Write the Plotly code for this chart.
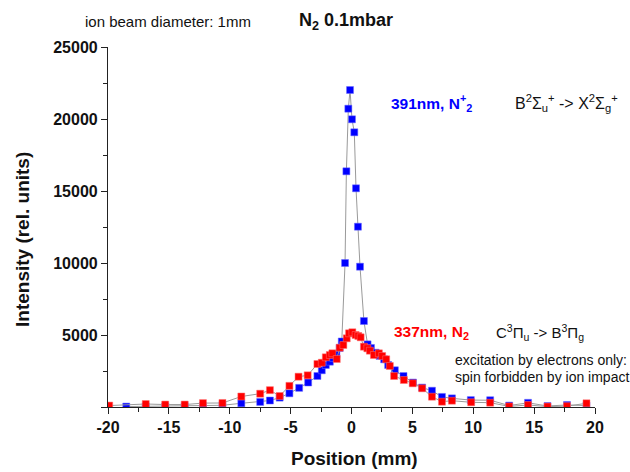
import plotly.graph_objects as go

# 391 nm emission (N2+ first negative band), position in mm vs intensity
pos_391 = [-18.5, -16.9, -15.3, -13.7, -12.2, -10.6, -9.05, -7.5, -6.7, -5.9, -5.1,
           -4.3, -3.56, -2.8, -2.44, -2.11, -1.78, -1.5, -1.24, -0.97, -0.8, -0.53,
           -0.42, -0.26, -0.12, 0.04, 0.23, 0.37, 0.53, 0.7, 1.02, 1.32, 1.6, 1.98,
           2.3, 2.68, 3.01, 3.56, 4.27, 5.05, 5.8, 6.61, 7.43, 8.25, 9.8, 11.39,
           12.95, 14.5, 16.1, 17.7, 19.3]
int_391 = [30, 40, 40, 50, 80, 120, 257, 350, 450, 650, 951,
           1330, 1700, 2153, 2550, 2917, 3146, 3400, 3660, 4100, 4550, 10000,
           16368, 20715, 22014, 19979, 19076, 15188, 12521, 9743, 5972, 4350, 4100, 3771,
           3550, 3310, 2917, 2550, 2150, 1700, 1350, 1130, 700, 600, 480, 470,
           100, 290, 70, 140, 100]

# 337 nm emission (N2 second positive band)
pos_337 = [-19.9, -16.9, -15.3, -13.7, -12.2, -10.6, -9.05, -7.5, -6.7, -5.9, -5.1,
           -4.35, -3.6, -2.8, -2.44, -2.11, -1.78, -1.57, -1.21, -0.97, -0.67, -0.39,
           -0.2, 0.07, 0.34, 0.56, 0.75, 1.02, 1.3, 1.51, 1.84, 2.25, 2.52, 2.85,
           3.15, 3.5, 4.3, 5.03, 5.8, 6.61, 7.43, 8.25, 9.83, 11.39, 12.95, 14.5,
           16.1, 17.7, 19.3]
int_337 = [100, 208, 170, 170, 270, 280, 730, 924, 1170, 764, 1470,
           2104, 2200, 2986, 3076, 3451, 3611, 3729, 3333, 4118, 4306, 4771,
           5118, 5188, 5000, 4931, 4840, 4188, 4076, 3910, 3611, 3729, 3542, 3313,
           2847, 2153, 1875, 1646, 1299, 715, 368, 438, 326, 299, 40, 139,
           30, 60, 257]

x_ticks = [-20, -15, -10, -5, 0, 5, 10, 15, 20]
x_ticktext = ["-20", "-15", "-10", "-5", "0", "5", "10", "15", "20"]
y_ticks = [0, 5000, 10000, 15000, 20000, 25000]
y_ticktext = ["", "5000", "10000", "15000", "20000", "25000"]

FONT = "Liberation Sans, Arial, sans-serif"
W, H = 630, 472
L, R, T, B = 108, 35, 47, 65


def px(xp, yp):
    """Convert page pixel position to paper coordinates."""
    pw = W - L - R
    ph = H - T - B
    return (xp - L) / pw, (H - B - yp) / ph


fig = go.Figure()

fig.add_trace(go.Scatter(
    x=pos_391, y=int_391, mode="lines+markers",
    line=dict(color="#9a9a9a", width=1),
    marker=dict(symbol="square", size=7, color="#0000ff",
                line=dict(width=0.5, color="#6a6aff")),
    showlegend=False,
))
fig.add_trace(go.Scatter(
    x=pos_337, y=int_337, mode="lines+markers",
    line=dict(color="#9a9a9a", width=1),
    marker=dict(symbol="square", size=7, color="#ff0000",
                line=dict(width=0.5, color="#ff7070")),
    showlegend=False,
))

axis_common = dict(
    showgrid=False, zeroline=False, showline=True, linecolor="#222",
    linewidth=1.2, ticks="outside", ticklen=6, tickwidth=1.2, tickcolor="#222",
    tickfont=dict(family=FONT, size=16, color="#111", weight="bold"),
)

fig.update_xaxes(
    range=[-20, 20], tickmode="array", tickvals=x_ticks, ticktext=x_ticktext,
    minor=dict(ticks="outside", ticklen=4, tickwidth=1, tickcolor="#222",
               tickmode="linear", tick0=-17.5, dtick=5),
    **axis_common,
)
fig.update_yaxes(
    range=[0, 25000], tickmode="array", tickvals=y_ticks, ticktext=y_ticktext,
    minor=dict(ticks="outside", ticklen=4, tickwidth=1, tickcolor="#222",
               tickmode="linear", tick0=2500, dtick=5000),
    **axis_common,
)

annotations = []


def add_text(text, xp, yp, size, color="#111", xanchor="left", angle=0, bold=False):
    ax, ay = px(xp, yp)
    annotations.append(dict(
        text=f"<b>{text}</b>" if bold else text,
        x=ax, y=ay, xref="paper", yref="paper",
        xanchor=xanchor, yanchor="middle", showarrow=False, textangle=angle,
        font=dict(family=FONT, size=size, color=color),
    ))


add_text("ion beam diameter: 1mm", 83, 21, 15)
add_text("N<sub>2</sub> 0.1mbar", 297, 21, 18, bold=True)
add_text("391nm, N<sup>+</sup><sub>2</sub>", 389, 103, 15.5, color="#0000ff", bold=True)
add_text("B<sup>2</sup>Σ<sub>u</sub><sup>+</sup> -&gt; X<sup>2</sup>Σ<sub>g</sub><sup>+</sup>",
         513, 103, 16)
add_text("337nm, N<sub>2</sub>", 392, 332, 15.5, color="#ff0000", bold=True)
add_text("C<sup>3</sup>Π<sub>u</sub> -&gt; B<sup>3</sup>Π<sub>g</sub>", 494, 332, 15)
add_text("excitation by electrons only:", 453, 360, 14)
add_text("spin forbidden by ion impact", 453, 377, 14)
add_text("Position (mm)", 354, 458, 19, xanchor="center", bold=True)
add_text("Intensity (rel. units)", 22, 240, 19, xanchor="center", angle=-90, bold=True)

fig.update_layout(
    width=W, height=H,
    margin=dict(l=L, r=R, t=T, b=B),
    paper_bgcolor="white", plot_bgcolor="white",
    annotations=annotations,
)

fig.write_html("out.html")
